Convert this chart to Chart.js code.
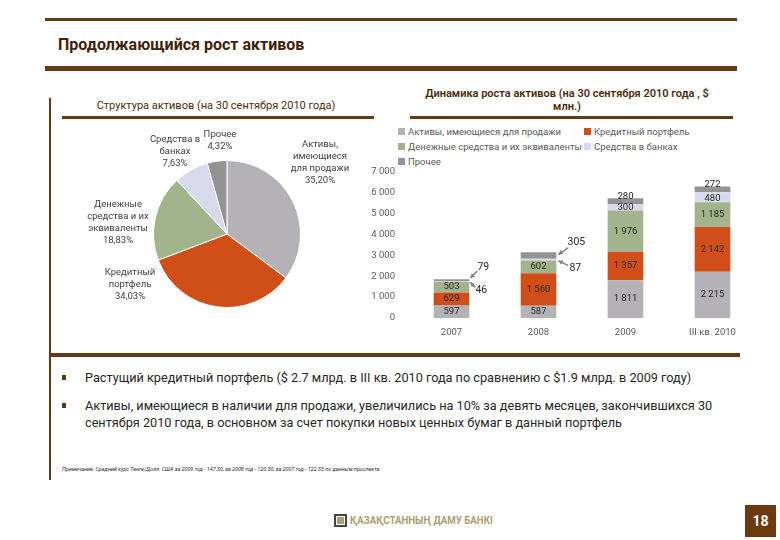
<!DOCTYPE html>
<html>
<head>
<meta charset="utf-8">
<script src="https://cdn.jsdelivr.net/npm/chart.js@4.4.0/dist/chart.umd.min.js"></script>
<style>
body { margin:0; width:780px; height:540px; background:#fff; position:relative; overflow:hidden; font-family:Roboto,"Noto Sans",sans-serif; }
.abs { position:absolute; }
.rule { position:absolute; background:#643a12; }
.title { left:58px; top:35px; font-size:16px; font-weight:700; color:#3f2207; }
.sub { font-size:11px; color:#4a2a0a; text-align:center; line-height:13px; }
#legend { left:398px; top:124px; display:grid; grid-template-columns:186px auto; row-gap:1px; font-size:9.5px; color:#595959; }
#legend div { display:flex; align-items:center; height:14px; white-space:nowrap; }
#legend span { display:inline-block; width:7px; height:7px; margin-right:3px; }
.bullets { left:62px; top:369px; font-size:12.7px; color:#262626; line-height:17.5px; }
.bullets .item { position:relative; padding-left:23px; margin-bottom:10px; }
.bullets .item::before { content:""; position:absolute; left:0; top:6px; width:4px; height:5px; background:#643a12; }
.note { left:62px; top:466px; font-size:5.4px; font-style:italic; color:#262626; }
.logo { left:350px; top:514px; font-size:11px; font-weight:700; color:#b09a72; transform:scaleX(0.88); transform-origin:left top; }
.page { left:745px; top:505px; width:31px; height:32px; background:#6b3a0f; color:#fff; font-weight:700; font-size:14px; text-align:center; line-height:32px; }
</style>
</head>
<body>
<div class="rule" style="left:45px;top:18px;width:692px;height:3px"></div>
<div class="abs title">Продолжающийся рост активов</div>
<div class="rule" style="left:45px;top:66px;width:692px;height:5px"></div>
<div class="rule" style="left:49px;top:98px;width:2px;height:382px"></div>

<div class="abs sub" style="left:66px;top:99px;width:300px">Структура активов (на 30 сентября 2010 года)</div>
<div class="rule" style="left:62px;top:116px;width:312px;height:3px"></div>
<div class="abs sub" style="left:397px;top:87px;width:340px;font-weight:600">Динамика роста активов (на 30 сентября 2010 года , $<br>млн.)</div>
<div class="rule" style="left:410px;top:116px;width:323px;height:3px"></div>

<div class="abs" style="left:57px;top:130px;width:340px;height:208px"><canvas id="pie"></canvas></div>
<div id="legend" class="abs"></div>
<div class="abs" style="left:360px;top:153px;width:400px;height:192px"><canvas id="bars"></canvas></div>

<div class="rule" style="left:50px;top:353px;width:690px;height:4px"></div>
<div class="abs bullets">
  <div class="item">Растущий кредитный портфель ($ 2.7 млрд. в III кв. 2010 года по сравнению с $1.9 млрд. в 2009 году)</div>
  <div class="item">Активы, имеющиеся в наличии для продажи, увеличились на 10% за девять месяцев, закончившихся 30<br>сентября 2010 года, в основном за счет покупки новых ценных бумаг в данный портфель</div>
</div>
<div class="abs note">Примечание: Средний курс Тенге/Долл. США за 2009 год - 147.50, за 2008 год - 120.30, за 2007 год - 122.55 по данным проспекта</div>

<div class="abs" style="left:334px;top:514px;width:13px;height:13px;border:2px solid #444;box-sizing:border-box;"></div>
<div class="abs" style="left:337px;top:517px;width:7px;height:7px;background:#b09a72;"></div>
<div class="abs logo">ҚАЗАҚСТАННЫҢ ДАМУ БАНКІ</div>
<div class="abs page">18</div>

<script>
// ==================== DATA ====================
const years = ['2007', '2008', '2009', 'III кв. 2010'];
const seriesNames = ['Активы, имеющиеся для продажи', 'Кредитный портфель', 'Денежные средства и их эквиваленты', 'Средства в банках', 'Прочее'];
const availableForSale = [597, 587, 1811, 2215];
const loanPortfolio = [629, 1560, 1357, 2142];
const cashEquivalents = [503, 602, 1976, 1185];
const dueFromBanks = [46, 87, 300, 480];
const otherAssets = [79, 305, 280, 272];
const yTicks = [0, 1000, 2000, 3000, 4000, 5000, 6000, 7000];

const pieLabels = ['Активы,\nимеющиеся\nдля продажи', 'Кредитный\nпортфель', 'Денежные\nсредства и их\nэквиваленты', 'Средства в\nбанках', 'Прочее'];
const pieShares = [35.20, 34.03, 18.83, 7.63, 4.32];

const colors = ['#b4b2b7', '#d04e18', '#a2b48c', '#d9d9ee', '#939393'];

// ==================== HELPERS ====================
const fmtNum = v => String(v).replace(/\B(?=(\d{3})+(?!\d))/g, ' ');
const fmtPct = v => v.toFixed(2).replace('.', ',') + '%';
const FONT = 'Roboto, "Noto Sans", sans-serif';

// legend (two columns like the slide)
const legendEl = document.getElementById('legend');
seriesNames.forEach((n, i) => {
    const d = document.createElement('div');
    d.innerHTML = '<span style="background:' + colors[i] + '"></span>' + n;
    legendEl.appendChild(d);
});

// ==================== PIE ====================
const pieLabelPlugin = {
    id: 'pieLabels',
    afterDatasetsDraw(chart, args, opts) {
        const ctx = chart.ctx;
        const meta = chart.getDatasetMeta(0);
        ctx.save();
        ctx.font = '9.5px ' + FONT;
        ctx.fillStyle = '#404040';
        ctx.textAlign = 'center';
        ctx.textBaseline = 'middle';
        meta.data.forEach((arc, i) => {
            const lines = chart.data.labels[i].split('\n');
            lines.push(fmtPct(chart.data.datasets[0].data[i]));
            const off = opts.offsets[i];
            const cx = arc.x + off[0];
            const cy = arc.y + off[1] - (lines.length - 1) * 6;
            lines.forEach((t, k) => ctx.fillText(t, cx, cy + k * 12));
        });
        ctx.restore();
    }
};

new Chart(document.getElementById('pie'), {
    type: 'pie',
    data: {
        labels: pieLabels,
        datasets: [{ data: pieShares, backgroundColor: colors, borderColor: '#fff', borderWidth: 1 }]
    },
    options: {
        responsive: true,
        maintainAspectRatio: false,
        animation: false,
        layout: { padding: { top: 30, bottom: 30, left: 20, right: 20 } },
        plugins: {
            legend: { display: false },
            tooltip: { enabled: false },
            pieLabels: { offsets: [[93, -71], [-97, 51], [-109, -11], [-52, -82], [-7, -93]] }
        }
    },
    plugins: [pieLabelPlugin]
});

// ==================== STACKED BARS ====================
const barLabelPlugin = {
    id: 'barLabels',
    afterDatasetsDraw(chart, args, opts) {
        const ctx = chart.ctx;
        ctx.save();
        ctx.font = '9.5px ' + FONT;
        ctx.textAlign = 'center';
        ctx.textBaseline = 'middle';
        chart.data.datasets.forEach((ds, di) => {
            chart.getDatasetMeta(di).data.forEach((bar, i) => {
                const text = fmtNum(ds.data[i]);
                const midY = (bar.y + bar.base) / 2;
                const right = bar.x + bar.width / 2;
                const c = opts.callouts.find(o => o.ds === di && o.idx === i);
                if (!c) {
                    const n = opts.nudges.find(o => o.ds === di && o.idx === i);
                    ctx.fillStyle = '#262626';
                    ctx.fillText(text, bar.x, midY + (n ? n.dy : 0));
                    return;
                }
                // arrow from label to the thin segment
                const x1 = right + c.tail[0], y1 = midY + c.tail[1];
                const x2 = right + c.head[0], y2 = midY + c.head[1];
                const ang = Math.atan2(y2 - y1, x2 - x1);
                ctx.strokeStyle = '#7f7f7f';
                ctx.fillStyle = '#7f7f7f';
                ctx.lineWidth = 1.5;
                ctx.beginPath(); ctx.moveTo(x1, y1); ctx.lineTo(x2, y2); ctx.stroke();
                ctx.beginPath();
                ctx.moveTo(x2, y2);
                ctx.lineTo(x2 - 5 * Math.cos(ang - 0.5), y2 - 5 * Math.sin(ang - 0.5));
                ctx.lineTo(x2 - 5 * Math.cos(ang + 0.5), y2 - 5 * Math.sin(ang + 0.5));
                ctx.closePath(); ctx.fill();
                ctx.fillStyle = '#262626';
                ctx.font = '10.5px ' + FONT;
                ctx.fillText(text, right + c.label[0], midY + c.label[1]);
                ctx.font = '9.5px ' + FONT;
            });
        });
        ctx.restore();
    }
};

const seriesData = [availableForSale, loanPortfolio, cashEquivalents, dueFromBanks, otherAssets];

new Chart(document.getElementById('bars'), {
    type: 'bar',
    data: {
        labels: years,
        datasets: seriesNames.map((n, i) => ({
            label: n,
            data: seriesData[i],
            backgroundColor: colors[i],
            borderWidth: 0,
            barPercentage: 0.41,
            categoryPercentage: 1
        }))
    },
    options: {
        responsive: true,
        maintainAspectRatio: false,
        animation: false,
        layout: { padding: { top: 6, right: 4, left: 0, bottom: 0 } },
        plugins: {
            legend: { display: false },
            tooltip: { enabled: false },
            barLabels: {
                callouts: [
                    { ds: 4, idx: 0, label: [14, -13], tail: [8, -9], head: [1, -2] },
                    { ds: 3, idx: 0, label: [12, 9], tail: [6, 6], head: [1, 1] },
                    { ds: 4, idx: 1, label: [20, -13], tail: [12, -8], head: [2, -1] },
                    { ds: 3, idx: 1, label: [19, 9], tail: [12, 6], head: [2, 1] }
                ],
                nudges: [
                    { ds: 4, idx: 2, dy: -5 },
                    { ds: 4, idx: 3, dy: -5 },
                    { ds: 3, idx: 3, dy: 1 }
                ]
            }
        },
        scales: {
            x: {
                stacked: true,
                grid: { display: false, drawTicks: false },
                border: { display: false },
                ticks: { color: '#595959', font: { size: 9.5, family: FONT }, padding: 9 },
                afterFit: s => { s.height = 27; }
            },
            y: {
                stacked: true,
                min: 0,
                max: 7000,
                grid: { display: false, drawTicks: false },
                border: { display: false },
                afterBuildTicks: s => { s.ticks = yTicks.map(v => ({ value: v })); },
                ticks: { color: '#595959', font: { size: 9.5, family: FONT }, padding: 13, callback: v => fmtNum(v) },
                afterFit: s => { s.width = 48; }
            }
        }
    },
    plugins: [barLabelPlugin]
});
</script>
</body>
</html>
